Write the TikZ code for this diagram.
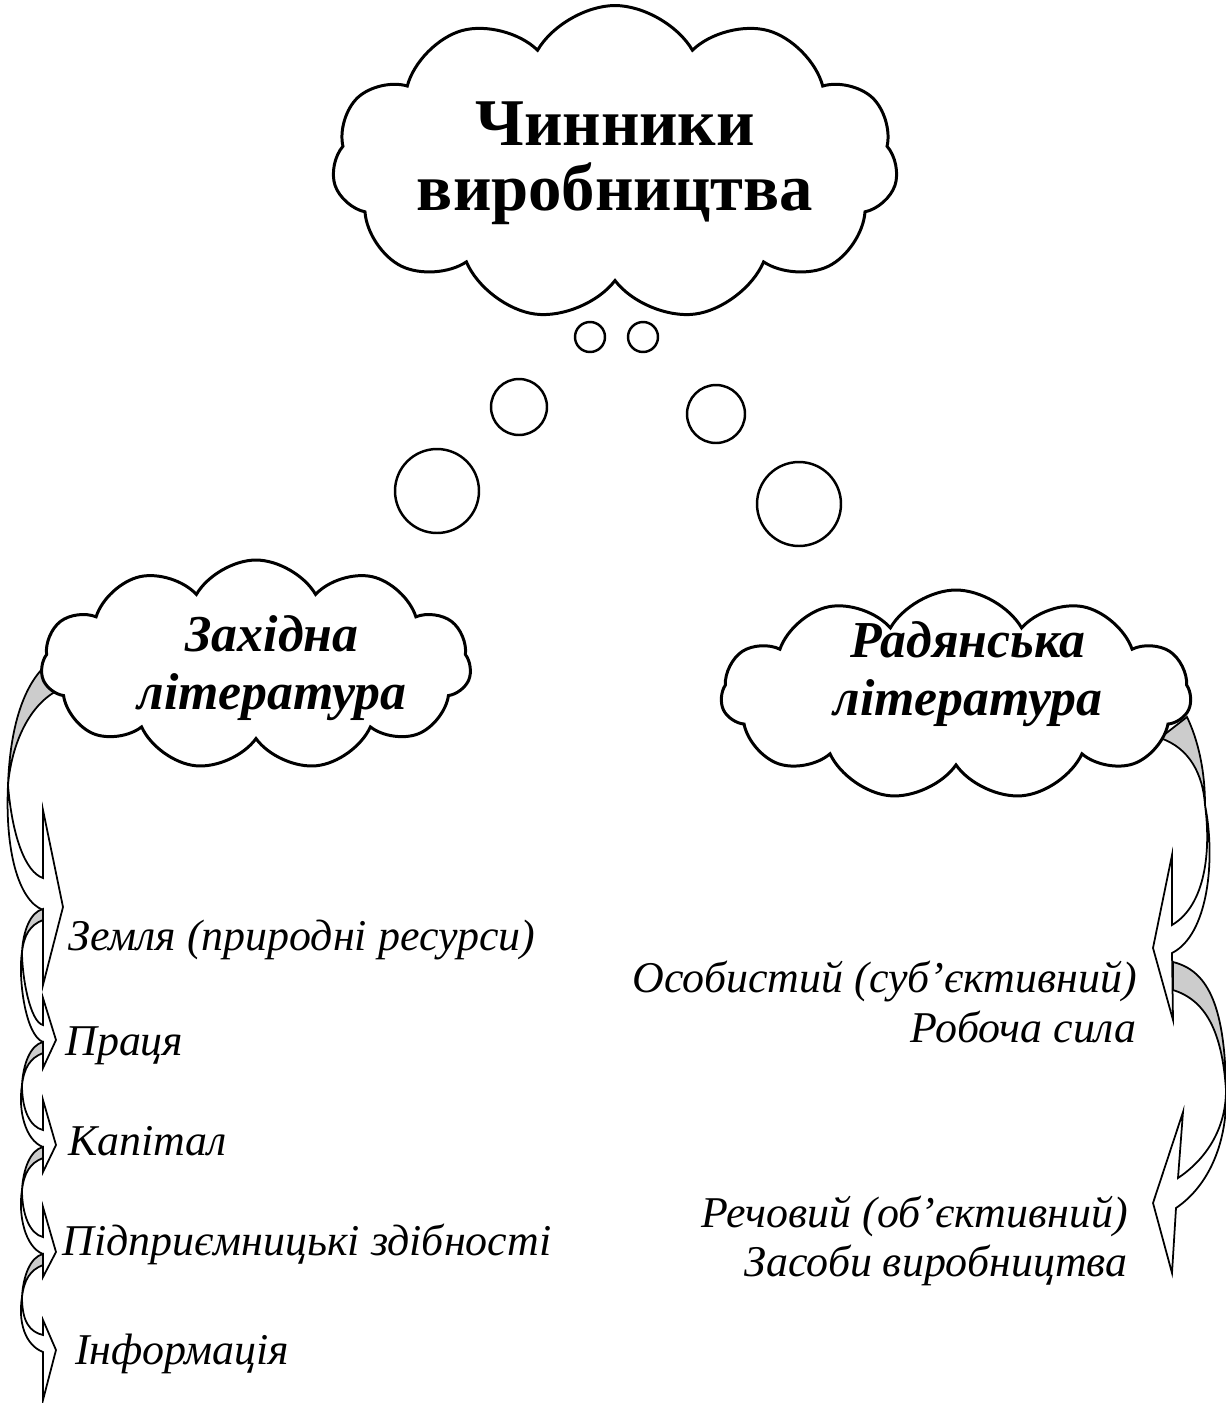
\documentclass[tikz,border=0pt]{standalone}
\usepackage{fontspec}
\setmainfont{Liberation Serif}
\usetikzlibrary{shapes.symbols}

\tikzset{
  cloudbox/.style={cloud, cloud puffs=11, cloud puff arc=120, cloud ignores aspect,
    draw, line width=1.7pt, fill=white, inner sep=0pt},
  bubble/.style={circle, draw, line width=1.4pt, inner sep=0pt},
  heading/.style={font=\fontsize{29.5}{33}\selectfont\bfseries\itshape, align=center, inner sep=0pt},
  entry/.style={font=\fontsize{25}{28}\selectfont\itshape, inner sep=0pt},
  ribbon/.style={draw, line width=1pt, fill=white, line join=miter},
  ribbonback/.style={draw, line width=1pt, fill=black!20},
}

\begin{document}
\begin{tikzpicture}[x=0.02cm, y=-0.02cm]
  \useasboundingbox (0,0) rectangle (1225,1403);

  % left side: big arrow from the cloud
  \draw[ribbonback] (43,668) .. controls (22,690) and (10,730) .. (8,785)
      .. controls (12,740) and (32,700) .. (63,688) -- cycle;
  \draw[ribbon] (8,785) .. controls (12,835) and (25,872) .. (43,878)
      -- (43,810) -- (63,907) -- (43,985) -- (43,910)
      .. controls (18,900) and (5,850) .. cycle;

  % left side: small arrows between the items
  \foreach \p/\q/\a/\b in {907/1040/42/28, 1040/1145/45/27, 1145/1252/45/25, 1252/1350/30/50} {
    \draw[ribbonback] (43,\p+2) .. controls (30,\p+5) and (23,\p+25) .. (22,\p+45)
        .. controls (24,\p+28) and (30,\p+18) .. (43,\p+13) -- cycle;
    \draw[ribbon] (22,\p+45) .. controls (22,\p+70) and (30,\q-18) .. (43,\q-15)
        -- (43,\q-\a) -- (56,\q) -- (43,\q+\b) -- (43,\q+2)
        .. controls (25,\q-5) and (18,\p+70) .. cycle;
  }

  % right side: first arrow
  \draw[ribbonback] (1187,717) .. controls (1198,740) and (1205,770) .. (1205,805)
      .. controls (1203,775) and (1190,748) .. (1160,738) -- cycle;
  \draw[ribbon] (1205,805) .. controls (1211,850) and (1206,905) .. (1172,925)
      -- (1172,855) -- (1153,948) -- (1173,1020) -- (1172,953)
      .. controls (1208,935) and (1216,860) .. cycle;

  % right side: second arrow
  \draw[ribbonback] (1173,962) .. controls (1205,970) and (1225,1000) .. (1226,1090)
      .. controls (1222,1030) and (1205,1000) .. (1173,990) -- cycle;
  \draw[ribbon] (1226,1090) .. controls (1226,1130) and (1205,1160) .. (1178,1178)
      -- (1183,1112) -- (1153,1203) -- (1172,1273) -- (1176,1208)
      .. controls (1210,1185) and (1228,1140) .. cycle;

  % clouds
  \node[cloudbox, minimum width=11.1cm, minimum height=6.3cm, align=center,
        font=\fontsize{38}{37}\selectfont\bfseries] (title) at (615,163) {Чинники\\виробництва};
  \node[cloudbox, minimum width=8.6cm, minimum height=4.2cm] (west) at (256,665) {};
  \node[heading] (westtext) at (272,668) {Західна\\література};
  \node[cloudbox, minimum width=9.4cm, minimum height=4.2cm] (soviet) at (956,695) {};
  \node[heading] (soviettext) at (968,674) {Радянська\\література};

  % thought bubbles
  \node[bubble, minimum size=0.6cm] (bub1) at (590,337) {};
  \node[bubble, minimum size=0.6cm] (bub2) at (643,337) {};
  \node[bubble, minimum size=1.12cm] (bub3) at (519,407) {};
  \node[bubble, minimum size=1.16cm] (bub4) at (716,414) {};
  \node[bubble, minimum size=1.68cm] (bub5) at (437,491) {};
  \node[bubble, minimum size=1.68cm] (bub6) at (799,504) {};

  % western factors
  \node[entry, anchor=base west] (land) at (68,950) {Земля (природні ресурси)};
  \node[entry, anchor=base west] (labour) at (65,1055) {Праця};
  \node[entry, anchor=base west] (capital) at (68,1155) {Капітал};
  \node[entry, anchor=base west] (enterprise) at (62,1255) {Підприємницькі здібності};
  \node[entry, anchor=base west] (info) at (75,1364) {Інформація};

  % soviet factors
  \node[entry, align=right, anchor=east] (personal) at (1137,1002) {Особистий (суб’єктивний)\\Робоча сила};
  \node[entry, align=right, anchor=east] (material) at (1128,1241) {Речовий (об’єктивний)\\Засоби виробництва};
\end{tikzpicture}
\end{document}
